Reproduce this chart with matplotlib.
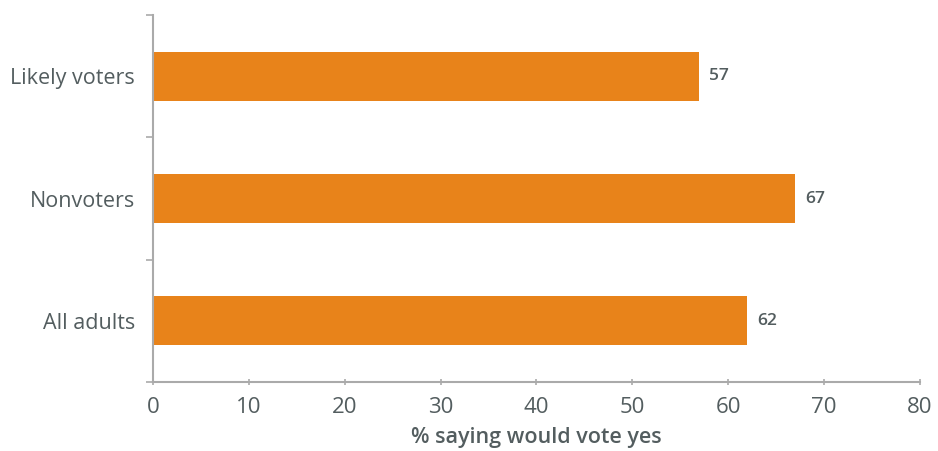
import matplotlib.pyplot as plt

# survey groups, top to bottom
groups = ['Likely voters', 'Nonvoters', 'All adults']
pct_yes = [57, 67, 62]
xticks = [0, 10, 20, 30, 40, 50, 60, 70, 80]

BAR = '#E8831A'
TXT = '#535D5F'
AXIS = '#AAAAAA'

plt.rcParams['font.family'] = ['Open Sans', 'DejaVu Sans']

fig = plt.figure(figsize=(9.38, 4.51), dpi=100)
ax = fig.add_axes([0.1631, 0.153, 0.8177, 0.8137])

ypos = list(range(len(groups)))
ax.barh(ypos, pct_yes, height=0.4, color=BAR)
for y, v in zip(ypos, pct_yes):
    ax.text(v + 1.0, y, str(v), va='center', ha='left', fontsize=12.5,
            color=TXT, fontweight='semibold')

ax.set_ylim(len(groups) - 0.5, -0.5)
ax.set_xlim(0, 80)
ax.set_xticks(xticks)
ax.set_xticklabels([str(t) for t in xticks])
ax.set_yticks(ypos)
ax.set_yticklabels(groups)
# small ticks between categories
ax.set_yticks([-0.5, 0.5, 1.5, 2.5], minor=True)
ax.tick_params(axis='y', which='major', length=0, pad=13, labelsize=15.5,
               labelcolor=TXT)
ax.tick_params(axis='y', which='minor', length=5, width=1.2, color=AXIS)
ax.tick_params(axis='x', length=4, width=1.2, color=AXIS, direction='inout',
               labelsize=16, labelcolor=TXT, pad=9)

ax.set_xlabel('% saying would vote yes', fontsize=15.5, color=TXT,
              fontweight='semibold', labelpad=6)

for s in ['top', 'right']:
    ax.spines[s].set_visible(False)
for s in ['left', 'bottom']:
    ax.spines[s].set_color(AXIS)
    ax.spines[s].set_linewidth(1.5)

fig.savefig('out.png', dpi=100)
